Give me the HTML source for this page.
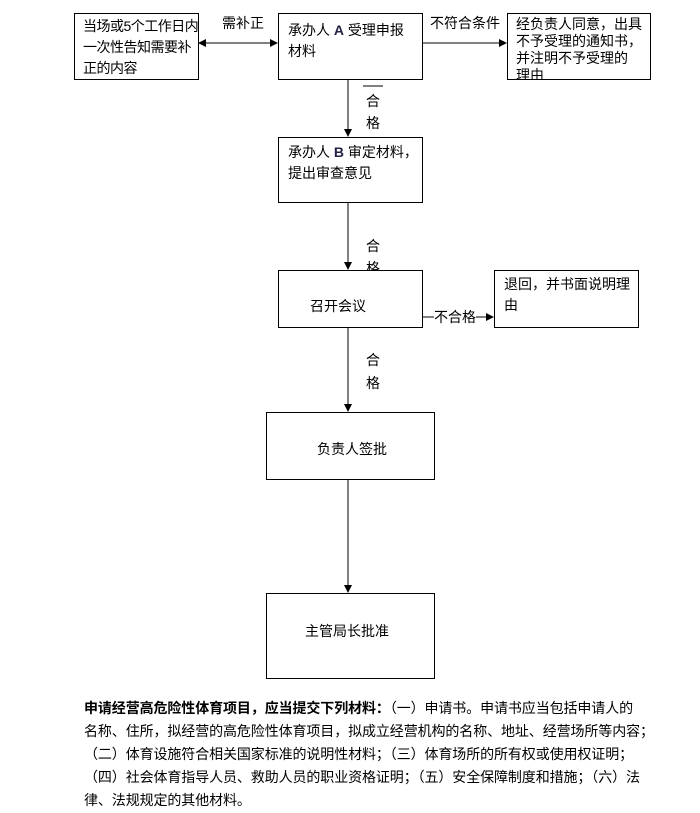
<!DOCTYPE html>
<html><head><meta charset="utf-8"><style>
body{margin:0;width:700px;height:813px;background:#fff;position:relative;overflow:hidden;font-family:"Liberation Sans","Noto Sans CJK SC",sans-serif;color:#000}
.b{position:absolute;border:1px solid #000;box-sizing:border-box;font-size:14px;line-height:21px;overflow:hidden;background:#fff;white-space:nowrap}
.t{position:absolute;font-size:13px;line-height:16px;white-space:nowrap}
.p{position:absolute;left:84px;width:600px;margin:0;font-size:14px;line-height:23px;white-space:nowrap;letter-spacing:-0.1px}
</style></head><body>
<svg width="700" height="813" style="position:absolute;left:0;top:0">
<defs><marker id="a" markerWidth="8" markerHeight="8" refX="7" refY="4" orient="auto" markerUnits="userSpaceOnUse"><path d="M0,0L8,4L0,8z" fill="#000"/></marker>
<marker id="s" markerWidth="8" markerHeight="8" refX="1" refY="4" orient="auto" markerUnits="userSpaceOnUse"><path d="M8,0L0,4L8,8z" fill="#000"/></marker></defs>
<g stroke="#000" stroke-width="1">
<line x1="199" y1="43" x2="277" y2="43" marker-start="url(#s)" marker-end="url(#a)"/>
<line x1="422" y1="43" x2="506" y2="43" marker-end="url(#a)"/>
<line x1="348" y1="80" x2="348" y2="136" marker-end="url(#a)"/>
<line x1="363" y1="86" x2="383" y2="86"/>
<line x1="348" y1="203" x2="348" y2="269" marker-end="url(#a)"/>
<line x1="422" y1="317" x2="493" y2="317" marker-end="url(#a)"/>
<line x1="348" y1="327" x2="348" y2="411" marker-end="url(#a)"/>
<line x1="348" y1="479" x2="348" y2="592" marker-end="url(#a)"/>
</g></svg>
<div class="t" style="left:222px;top:15px;font-size:14px">需补正</div>
<div class="t" style="left:430px;top:15px;font-size:14px">不符合条件</div>
<div class="t" style="left:366px;top:93px;font-size:14px">合</div>
<div class="t" style="left:366px;top:115px;font-size:14px">格</div>
<div class="t" style="left:366px;top:238px;font-size:14px">合</div>
<div class="t" style="left:366px;top:260px;font-size:14px">格</div>
<div class="t" style="left:366px;top:352px;font-size:14px">合</div>
<div class="t" style="left:366px;top:375px;font-size:14px">格</div>
<div class="b" style="left:74px;top:13px;width:125px;height:67px;padding:2px 0 0 8px;letter-spacing:-0.5px">当场或5个工作日内<br>一次性告知需要补<br>正的内容</div>
<div class="b" style="left:278px;top:13px;width:145px;height:67px;padding:6px 0 0 9px">承办人 <b style="color:#224">A</b> 受理申报<br>材料</div>
<div class="b" style="left:507px;top:13px;width:144px;height:67px;padding:2px 0 0 8px;line-height:17px">经负责人同意，出具<br>不予受理的通知书，<br>并注明不予受理的<br>理由</div>
<div class="b" style="left:278px;top:137px;width:145px;height:66px;padding:4px 0 0 9px">承办人 <b style="color:#224">B</b> 审定材料，<br>提出审查意见</div>
<div class="t" style="left:434px;top:309px;background:#fff;font-size:14px">不合格</div>
<div class="b" style="left:278px;top:270px;width:145px;height:58px;padding:25px 0 0 31px">召开会议</div>
<div class="b" style="left:494px;top:270px;width:145px;height:58px;padding:3px 0 0 9px">退回，并书面说明理<br>由</div>
<div class="b" style="left:266px;top:412px;width:169px;height:68px;padding:26px 0 0 50px">负责人签批</div>
<div class="b" style="left:266px;top:593px;width:169px;height:86px;padding:27px 0 0 38px">主管局长批准</div>
<div class="p" style="top:697px"><b>申请经营高危险性体育项目，应当提交下列材料：</b>（一）申请书。申请书应当包括申请人的</div>
<div class="p" style="top:720px">名称、住所，拟经营的高危险性体育项目，拟成立经营机构的名称、地址、经营场所等内容；</div>
<div class="p" style="top:743px">（二）体育设施符合相关国家标准的说明性材料；（三）体育场所的所有权或使用权证明；</div>
<div class="p" style="top:766px">（四）社会体育指导人员、救助人员的职业资格证明；（五）安全保障制度和措施；（六）法</div>
<div class="p" style="top:789px">律、法规规定的其他材料。</div>
</body></html>
